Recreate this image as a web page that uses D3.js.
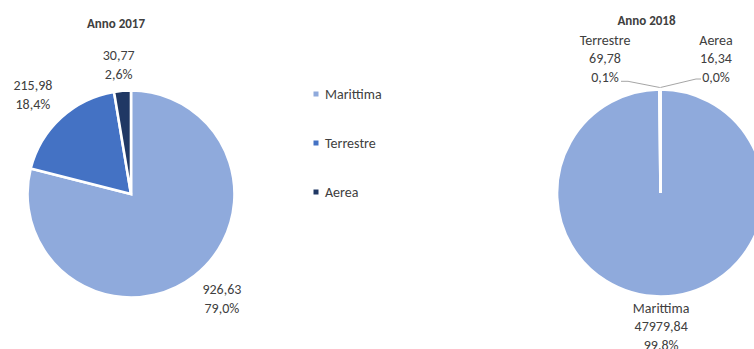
<!DOCTYPE html>
<html>
<head>
<meta charset="utf-8">
<script src="https://cdn.jsdelivr.net/npm/d3@7/dist/d3.min.js"></script>
<style>
  html, body { margin: 0; padding: 0; background: #ffffff; }
  svg { display: block; }
  text { font-family: Carlito, Calibri, Lato, "Open Sans", sans-serif; fill: #404040; }
</style>
</head>
<body>
<svg id="chart" width="754" height="349"></svg>
<script>
// Traffico per modalità di trasporto, confronto 2017 / 2018
const categories = ["Marittima", "Terrestre", "Aerea"];
const titles = ["Anno 2017", "Anno 2018"];
const values2017 = [926.63, 215.98, 30.77];
const values2018 = [47979.84, 69.78, 16.34];
const pctLabels2017 = ["79,0%", "18,4%", "2,6%"];
const pctLabels2018 = ["99.8%", "0,1%", "0,0%"];
const colors = ["#8faadc", "#4472c4", "#203864"];

const it = d3.formatLocale({ decimal: ",", thousands: "", grouping: [3], currency: ["", " €"] });
const fmtValue = it.format(".2f");

const svg = d3.select("#chart");
const radius = 103.5;
const lineGap = 18.6;
const fontSize = 14;

const color = d3.scaleOrdinal().domain(categories).range(colors);
const pie = d3.pie().sort(null).value(d => d.value);
const arc = d3.arc().innerRadius(0).outerRadius(radius);

function rows(values, pcts) {
  return categories.map((c, i) => ({ cat: c, value: values[i], pct: pcts[i] }));
}

function drawPie(g, data) {
  const arcs = pie(data);
  g.selectAll("path.slice")
    .data(arcs)
    .join("path")
    .attr("class", "slice")
    .attr("d", arc)
    .attr("fill", d => color(d.data.cat))
    .attr("stroke", "#ffffff")
    .attr("stroke-width", 2.6)
    .attr("stroke-linejoin", "miter");
  return arcs;
}

function textBlock(g, x, y, lines) {
  const t = g.append("text")
    .attr("text-anchor", "middle")
    .attr("font-size", fontSize);
  lines.forEach((s, i) => {
    t.append("tspan")
      .attr("x", x)
      .attr("y", y + i * lineGap)
      .attr("dominant-baseline", "central")
      .text(s);
  });
  return t;
}

// ---- Anno 2017 ----
const g17 = svg.append("g").attr("transform", "translate(131,194)");
g17.append("text")
  .attr("x", -15).attr("y", -171)
  .attr("text-anchor", "middle")
  .attr("dominant-baseline", "central")
  .attr("font-size", 13)
  .attr("font-weight", "bold")
  .text(titles[0]);

const arcs17 = drawPie(g17, rows(values2017, pctLabels2017));
const anchorArc17 = d3.arc().innerRadius(radius + 12).outerRadius(radius + 12);
const halfW = 20, halfH = 14, k = 1.7;
const clamp = v => Math.max(-1, Math.min(1, v));
arcs17.forEach(d => {
  const [ax, ay] = anchorArc17.centroid(d);
  const a = (d.startAngle + d.endAngle) / 2;
  const cx = ax + halfW * clamp(Math.sin(a) * k);
  const cy = ay + halfH * clamp(-Math.cos(a) * k);
  textBlock(g17, cx, cy - lineGap / 2, [fmtValue(d.data.value), d.data.pct]);
});

// ---- Legenda ----
const legend = svg.append("g").attr("transform", "translate(316,94)");
const legendStep = 49;
categories.forEach((c, i) => {
  const row = legend.append("g").attr("transform", `translate(0,${i * legendStep})`);
  row.append("rect")
    .attr("x", -2.5).attr("y", -2.5)
    .attr("width", 5).attr("height", 5)
    .attr("fill", color(c));
  row.append("text")
    .attr("x", 9).attr("y", 0)
    .attr("dominant-baseline", "central")
    .attr("font-size", fontSize)
    .text(c);
});

// ---- Anno 2018 ----
const g18 = svg.append("g").attr("transform", "translate(660.5,193)");
g18.append("text")
  .attr("x", -14).attr("y", -173)
  .attr("text-anchor", "middle")
  .attr("dominant-baseline", "central")
  .attr("font-size", 13)
  .attr("font-weight", "bold")
  .text(titles[1]);

const arcs18 = drawPie(g18, rows(values2018, pctLabels2018));
const leaderArc18 = d3.arc().innerRadius(radius + 2).outerRadius(radius + 2);

// Marittima: etichetta sotto la torta
{
  const d = arcs18[0];
  const a = (d.startAngle + d.endAngle) / 2;
  const x = Math.sin(a) * (radius + 12);
  textBlock(g18, x, 115, [d.data.cat, fmtValue(d.data.value), d.data.pct]);
}

// Terrestre e Aerea: etichette ai lati con linee guida
const sides = [null, -1, 1];
[1, 2].forEach(i => {
  const d = arcs18[i];
  const side = sides[i];
  const bx = side * 55.5;
  const by = -153;
  textBlock(g18, bx, by, [d.data.cat, fmtValue(d.data.value), d.data.pct]);
  const [lx, ly] = leaderArc18.centroid(d);
  const edgeX = side < 0 ? bx + 16 : bx - 15;
  const lineY = side < 0 ? -111.7 : -114;
  const kneeX = edgeX + (side < 0 ? 7 : -5);
  g18.append("path")
    .attr("d", d3.line()([[edgeX, lineY], [kneeX, lineY], [lx, ly]]))
    .attr("fill", "none")
    .attr("stroke", "#a6a6a6")
    .attr("stroke-width", 1);
});
</script>
</body>
</html>
